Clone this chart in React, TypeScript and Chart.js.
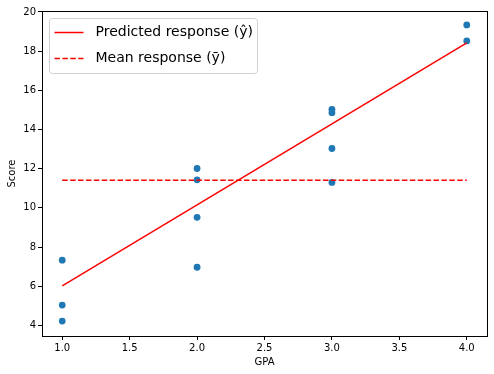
import React, { useEffect, useRef } from "react";
import { Chart, registerables } from "chart.js";

Chart.register(...registerables);

const gpa = [1, 1, 1, 2, 2, 2, 2, 3, 3, 3, 3, 4, 4];
const score = [7.33, 5.04, 4.22, 12.01, 11.43, 9.52, 6.97, 15.03, 14.86, 13.03, 11.3, 19.34, 18.52];
const predX = [1, 4];
const predY = [6.02, 18.42];
const meanY = 11.41;
const xTicks = [1.0, 1.5, 2.0, 2.5, 3.0, 3.5, 4.0];
const yTicks = [4, 6, 8, 10, 12, 14, 16, 18, 20];
const legendLabels = ["Predicted response (ŷ)", "Mean response (ȳ)"];

const FONT = "'DejaVu Sans', sans-serif";

const framePlugin = {
  id: "frame",
  afterDatasetsDraw(chart: any) {
    const { ctx, chartArea: a } = chart;
    ctx.save();
    ctx.strokeStyle = "#000";
    ctx.lineWidth = 1;
    ctx.strokeRect(Math.round(a.left) + 0.5, Math.round(a.top) + 0.5, Math.round(a.right - a.left), Math.round(a.bottom - a.top));
    // legend
    const x0 = a.left + 7.5, y0 = a.top + 7.5, w = 208, h = 55;
    ctx.beginPath();
    const r = 3;
    ctx.moveTo(x0 + r, y0);
    ctx.lineTo(x0 + w - r, y0);
    ctx.quadraticCurveTo(x0 + w, y0, x0 + w, y0 + r);
    ctx.lineTo(x0 + w, y0 + h - r);
    ctx.quadraticCurveTo(x0 + w, y0 + h, x0 + w - r, y0 + h);
    ctx.lineTo(x0 + r, y0 + h);
    ctx.quadraticCurveTo(x0, y0 + h, x0, y0 + h - r);
    ctx.lineTo(x0, y0 + r);
    ctx.quadraticCurveTo(x0, y0, x0 + r, y0);
    ctx.closePath();
    ctx.fillStyle = "rgba(255,255,255,0.8)";
    ctx.fill();
    ctx.strokeStyle = "#d0d0d0";
    ctx.stroke();
    ctx.strokeStyle = "red";
    ctx.lineWidth = 1.5;
    const rows = [y0 + 14, y0 + 40];
    ctx.setLineDash([]);
    ctx.beginPath();
    ctx.moveTo(x0 + 5, rows[0]);
    ctx.lineTo(x0 + 34, rows[0]);
    ctx.stroke();
    ctx.setLineDash([5.5, 2.4]);
    ctx.beginPath();
    ctx.moveTo(x0 + 5, rows[1]);
    ctx.lineTo(x0 + 34, rows[1]);
    ctx.stroke();
    ctx.setLineDash([]);
    ctx.fillStyle = "#000";
    ctx.font = `14px ${FONT}`;
    ctx.textBaseline = "middle";
    ctx.textAlign = "left";
    ctx.fillText(legendLabels[0], x0 + 46, rows[0]);
    ctx.fillText(legendLabels[1], x0 + 46, rows[1]);
    ctx.restore();
  },
};

export default function App() {
  const ref = useRef<HTMLCanvasElement>(null);
  useEffect(() => {
    const canvas = ref.current!;
    const chart = new Chart(canvas, {
      type: "scatter",
      data: {
        datasets: [
          {
            type: "line",
            data: predX.map((x, i) => ({ x, y: predY[i] })),
            borderColor: "red",
            borderWidth: 1.5,
            pointRadius: 0,
            order: 1,
          } as any,
          {
            type: "line",
            data: [{ x: 1, y: meanY }, { x: 4, y: meanY }],
            borderColor: "red",
            borderWidth: 1.5,
            borderDash: [5.5, 2.4],
            pointRadius: 0,
            order: 2,
          } as any,
          {
            type: "scatter",
            data: gpa.map((x, i) => ({ x, y: score[i] })),
            backgroundColor: "#1f77b4",
            borderColor: "#1f77b4",
            borderWidth: 0,
            pointRadius: 3.4,
            order: 3,
          },
        ],
      },
      options: {
        animation: false,
        responsive: false,
        maintainAspectRatio: false,
        layout: { padding: { top: 11, right: 7, left: 6, bottom: 6 } },
        plugins: { legend: { display: false }, tooltip: { enabled: false } },
        scales: {
          x: {
            type: "linear",
            min: 0.85,
            max: 4.15,
            afterBuildTicks: (s: any) => { s.ticks = xTicks.map((v) => ({ value: v })); },
            afterFit: (s: any) => { s.height = 32; },
            grid: { drawOnChartArea: false, drawTicks: true, tickLength: 4, color: "#000" },
            border: { display: true, color: "#000" },
            ticks: {
              color: "#000",
              font: { family: FONT, size: 10 },
              padding: 2,
              maxRotation: 0,
              callback: (v: any) => Number(v).toFixed(1),
            },
            title: { display: true, text: "GPA", color: "#000", font: { family: FONT, size: 10 }, padding: { top: 2, bottom: 0 } },
          },
          y: {
            type: "linear",
            min: 3.46,
            max: 20.05,
            afterBuildTicks: (s: any) => { s.ticks = yTicks.map((v) => ({ value: v })); },
            afterFit: (s: any) => { s.width = 36; },
            grid: { drawOnChartArea: false, drawTicks: true, tickLength: 4, color: "#000" },
            border: { display: true, color: "#000" },
            ticks: {
              color: "#000",
              font: { family: FONT, size: 10 },
              padding: 2,
              callback: (v: any) => String(v),
            },
            title: { display: true, text: "Score", color: "#000", font: { family: FONT, size: 10 }, padding: { top: 0, bottom: 2 } },
          },
        },
      },
      plugins: [framePlugin],
    });
    return () => chart.destroy();
  }, []);
  return (
    <div style={{ position: "fixed", left: 0, top: 0, width: 494, height: 374, background: "#fff" }}>
      <canvas ref={ref} width={494} height={374} style={{ width: 494, height: 374, display: "block" }} />
    </div>
  );
}
